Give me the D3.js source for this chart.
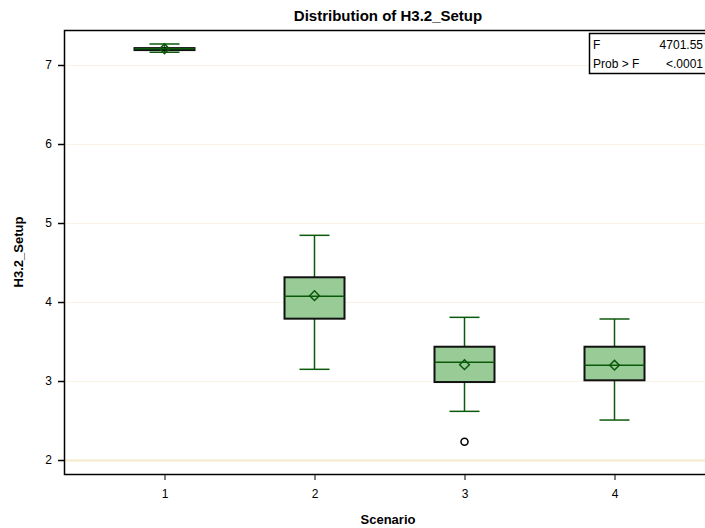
<!DOCTYPE html>
<meta charset="UTF-8">
<html>
  <head>
    <script src="https://cdn.jsdelivr.net/npm/d3@7"></script>
    <style>
      body { margin: 0; background: #fff; }
      svg text { font-family: 'Liberation Sans Narrow', 'Arial Narrow', 'Liberation Sans', Arial, sans-serif; }
    </style>
  </head>
<body>
<div id="chart"></div>

<script>
// ---- data ----
var scenarios   = [1, 2, 3, 4];
var whiskerLow  = [7.161, 3.148, 2.616, 2.506];
var q1          = [7.198, 3.789, 2.987, 3.009];
var medians     = [7.206, 4.072, 3.237, 3.199];
var q3          = [7.214, 4.313, 3.434, 3.434];
var whiskerHigh = [7.266, 4.844, 3.806, 3.785];
var means       = [7.206, 4.080, 3.207, 3.200];
var outliers    = [{ s: 3, v: 2.23 }];
var yTicks      = [2, 3, 4, 5, 6, 7];
var statLabels  = ['F', 'Prob > F'];
var statValues  = ['4701.55', '<.0001'];

var W = 705, H = 528;
var svg = d3.select('#chart').append('svg')
    .attr('width', W).attr('height', H);

var x = d3.scaleLinear().domain([0.33, 4.67]).range([64, 715]);
var y = d3.scaleLinear().domain([1.823, 7.443]).range([474, 30]);

var boxW = x(1.4) - x(1);     // full box width in px
var capW = boxW / 2;

// gridlines
svg.append('g').selectAll('line')
    .data(yTicks).enter().append('line')
    .attr('x1', 65).attr('x2', 715)
    .attr('y1', function (d) { return y(d) + 0.5; })
    .attr('y2', function (d) { return y(d) + 0.5; })
    .attr('stroke', function (d) { return d == 2 ? '#f6e9cc' : '#f9f3e6'; })
    .attr('stroke-width', function (d) { return d == 2 ? 2 : 1; });

// frame
svg.append('rect')
    .attr('x', 64.5).attr('y', 30.5)
    .attr('width', 660).attr('height', 444)
    .attr('fill', 'none').attr('stroke', '#000').attr('stroke-width', 1.5);

// axes
var yAxis = d3.axisLeft(y).tickValues(yTicks).tickSize(6).tickPadding(6).tickFormat(d3.format('d'));
svg.append('g').attr('transform', 'translate(64,0)').call(yAxis)
    .call(function (g) { g.select('.domain').remove(); })
    .call(function (g) { g.selectAll('text').attr('font-size', 12).attr('fill', '#000'); })
    .call(function (g) { g.selectAll('line').attr('stroke-width', 1.5); });

var xAxis = d3.axisBottom(x).tickValues(scenarios).tickSize(6).tickPadding(9).tickFormat(d3.format('d'));
svg.append('g').attr('transform', 'translate(0,474)').call(xAxis)
    .call(function (g) { g.select('.domain').remove(); })
    .call(function (g) { g.selectAll('text').attr('font-size', 12).attr('fill', '#000'); });

// boxes
var boxes = svg.append('g').selectAll('g')
    .data(scenarios).enter().append('g');

var green = '#0b5a0b';

boxes.append('line')
    .attr('x1', function (d) { return x(d); }).attr('x2', function (d) { return x(d); })
    .attr('y1', function (d, i) { return y(whiskerHigh[i]); })
    .attr('y2', function (d, i) { return y(whiskerLow[i]); })
    .attr('stroke', green).attr('stroke-width', 1.5);

boxes.each(function (d, i) {
  var g = d3.select(this);
  [whiskerHigh[i], whiskerLow[i]].forEach(function (v) {
    g.append('line')
      .attr('x1', x(d) - capW / 2).attr('x2', x(d) + capW / 2)
      .attr('y1', y(v)).attr('y2', y(v))
      .attr('stroke', green).attr('stroke-width', 1.5);
  });
});

boxes.append('rect')
    .attr('x', function (d) { return x(d) - boxW / 2; })
    .attr('width', boxW)
    .attr('y', function (d, i) { return y(q3[i]); })
    .attr('height', function (d, i) { return Math.max(2, y(q1[i]) - y(q3[i])); })
    .attr('fill', '#99cb96')
    .attr('stroke', '#111').attr('stroke-width', 2);

boxes.append('line')
    .attr('x1', function (d) { return x(d) - boxW / 2; })
    .attr('x2', function (d) { return x(d) + boxW / 2; })
    .attr('y1', function (d, i) { return y(medians[i]); })
    .attr('y2', function (d, i) { return y(medians[i]); })
    .attr('stroke', green).attr('stroke-width', 1.5);

boxes.append('path')
    .attr('d', d3.symbol().type(d3.symbolDiamond2).size(60))
    .attr('transform', function (d, i) { return 'translate(' + x(d) + ',' + y(means[i]) + ')'; })
    .attr('fill', 'none').attr('stroke', green).attr('stroke-width', 1.5);

// outliers
svg.append('g').selectAll('circle')
    .data(outliers).enter().append('circle')
    .attr('cx', function (d) { return x(d.s); })
    .attr('cy', function (d) { return y(d.v); })
    .attr('r', 3.5)
    .attr('fill', '#fff').attr('stroke', '#000').attr('stroke-width', 1.5);

// stats inset
var inset = svg.append('g');
inset.append('rect')
    .attr('x', 589.5).attr('y', 33.5).attr('width', 130).attr('height', 40)
    .attr('fill', '#fff').attr('stroke', '#000').attr('stroke-width', 1.5);
statLabels.forEach(function (t, i) {
  inset.append('text').attr('x', 593).attr('y', 49 + i * 19)
    .attr('font-size', 12).text(t);
  inset.append('text').attr('x', 703).attr('y', 49 + i * 19)
    .attr('font-size', 12).attr('text-anchor', 'end').text(statValues[i]);
});

// titles
svg.append('text').attr('x', 388).attr('y', 21)
    .attr('text-anchor', 'middle').attr('font-size', 15).attr('font-weight', 'bold')
    .text('Distribution of H3.2_Setup');

svg.append('text').attr('x', 388).attr('y', 524)
    .attr('text-anchor', 'middle').attr('font-size', 13).attr('font-weight', 'bold')
    .text('Scenario');

svg.append('text')
    .attr('transform', 'translate(23,252) rotate(-90)')
    .attr('text-anchor', 'middle').attr('font-size', 13).attr('font-weight', 'bold')
    .text('H3.2_Setup');
</script>
</body>
</html>
